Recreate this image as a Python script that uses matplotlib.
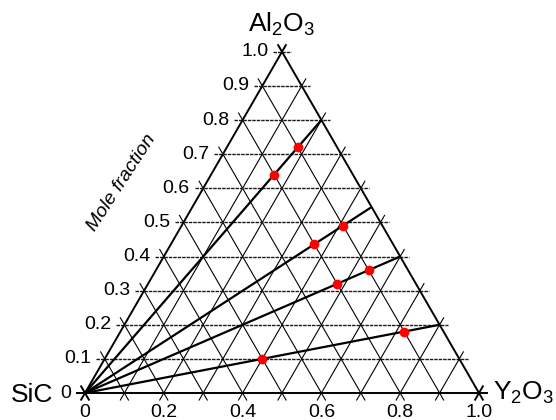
import numpy as np
import matplotlib.pyplot as plt

plt.rcParams['font.family'] = ['Liberation Sans', 'DejaVu Sans']
plt.rcParams['mathtext.fontset'] = 'custom'
plt.rcParams['mathtext.rm'] = 'Liberation Sans'

# left axis: Al2O3 mole fraction, bottom axis: Y2O3 mole fraction
left_ticks = [0, 0.1, 0.2, 0.3, 0.4, 0.5, 0.6, 0.7, 0.8, 0.9, 1.0]
left_labels = ['0', '0.1', '0.2', '0.3', '0.4', '0.5', '0.6', '0.7', '0.8', '0.9', '1.0']
bottom_ticks = [0, 0.2, 0.4, 0.6, 0.8, 1.0]
bottom_labels = ['0', '0.2', '0.4', '0.6', '0.8', '1.0']

# Al2O3/(Al2O3+Y2O3) of the lines drawn from the SiC corner
line_ratios = [0.8, 0.545, 0.4, 0.2]

# measured compositions (red dots)
pt_al2o3 = [0.72, 0.64, 0.49, 0.436, 0.36, 0.32, 0.18, 0.10]
pt_y2o3 = [0.18, 0.16, 0.41, 0.364, 0.54, 0.48, 0.72, 0.40]

h = np.sqrt(3) / 2


def xy(a, y):
    a = np.asarray(a, dtype=float)
    y = np.asarray(y, dtype=float)
    return y + a / 2, a * h


def grid_line(ax, p0, p1, u, ext=0.022, **kw):
    # extend a bit past both ends so the crossings look like ticks
    a, b = p0 - u * ext, p1 + u * ext
    ax.plot([a[0], b[0]], [a[1], b[1]], **kw)


fig = plt.figure(figsize=(5.56, 4.2), dpi=100)
ax = fig.add_axes([0, 0, 1, 1])
ax.set_xlim(-85 / 394, 471 / 394)
ax.set_ylim(-27 / 394, 393 / 394)
ax.axis('off')

u_h = np.array([1.0, 0.0])
u_l = np.array([0.5, h])
u_r = np.array([-0.5, h])

for t in left_ticks:
    edge = t in (0, 1.0)
    solid = dict(color='black', lw=1.4 if edge else 0.8, solid_capstyle='butt')
    # constant Al2O3 (horizontal)
    p0 = np.array(xy(t, 0)); p1 = np.array(xy(t, 1 - t))
    if t == 0:
        grid_line(ax, p0, p1, u_h, **solid)
    else:
        grid_line(ax, p0, p1, u_h, color='#1a1a1a', lw=1.0,
                  linestyle=(0, (2.5, 0.7)))
    # constant Y2O3 (parallel to left edge)
    p0 = np.array(xy(0, t)); p1 = np.array(xy(1 - t, t))
    grid_line(ax, p0, p1, u_l, **solid)
    # constant SiC (parallel to right edge), bottom -> left edge
    p0 = np.array(xy(0, 1 - t)); p1 = np.array(xy(1 - t, 0))
    grid_line(ax, p0, p1, u_r, **solid)

# lines from the SiC corner
for r in line_ratios:
    ex, ey = xy(r, 1 - r)
    ax.plot([0, ex], [0, ey], color='black', lw=1.6, solid_capstyle='butt')

px, py = xy(pt_al2o3, pt_y2o3)
ax.plot(px, py, 'o', color='#ff0000', ms=7, mec='none', zorder=5)

for t, lab in zip(left_ticks, left_labels):
    x0, y0 = xy(t, 0)
    ax.text(x0 - 0.034, y0, lab, ha='right', va='center', fontsize=14)

for t, lab in zip(bottom_ticks, bottom_labels):
    ax.text(t, -0.027, lab, ha='center', va='top', fontsize=14)

ax.text(0.5, 0.918, r'Al$_2$O$_3$', ha='center', va='baseline', fontsize=19)
ax.text(-0.08, -0.005, 'SiC', ha='right', va='center', fontsize=19)
ax.text(1.035, 0.0, r'Y$_2$O$_3$', ha='left', va='center', fontsize=19)
ax.text(0.094, 0.533, 'Mole fraction', ha='center', va='center',
        rotation=57, style='italic', fontsize=14)

fig.savefig('out.png', dpi=100)
